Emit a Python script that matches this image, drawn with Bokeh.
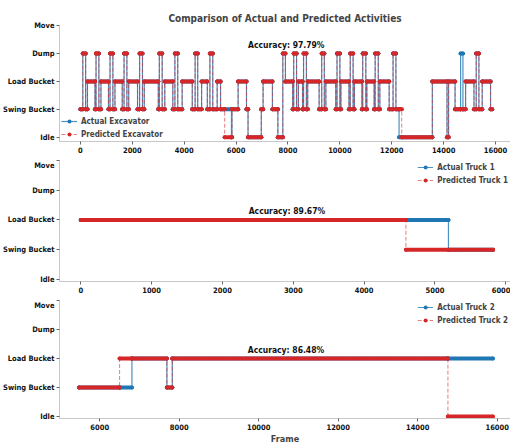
from bokeh.plotting import figure
from bokeh.models import Range1d, FixedTicker, Legend, LegendItem
from bokeh.layouts import column
from bokeh.core.properties import value
from bokeh.embed import file_html
from bokeh.resources import INLINE

activity_labels = ["Idle", "Swing Bucket", "Load Bucket", "Dump", "Move"]

# Excavator: change-point frames and states (0 Idle, 1 Swing, 2 Load, 3 Dump, 4 Move)
exc_frames = [0, 90, 200, 270, 560, 600, 710, 790, 1080, 1140, 1250, 1330, 1610, 1680,
              1790, 1860, 2200, 2280, 2390, 2460, 3000, 3040, 3150, 3250, 3560, 3640,
              3750, 3920, 4310, 4420, 4520, 4670, 4890, 4990, 5100, 5270, 5400, 5560,
              5820, 5840, 6077, 6400, 6460, 6970, 7040, 7400, 7610, 7800, 7900, 8180,
              8220, 8330, 8400, 8560, 8600, 8710, 8760, 9200, 9300, 9400, 9460, 9840,
              9890, 10000, 10040, 10350, 10400, 10510, 10560, 10850, 10880, 11000, 11040,
              11320, 11360, 11480, 11540, 11900, 12050, 12160, 12282, 12385, 13564, 14130,
              14190, 14440, 14654, 14744, 14846, 15170, 15256, 15359, 15487, 15808]
exc_actual = [1, 3, 1, 2, 1, 3, 1, 2, 1, 3, 1, 2, 1, 3,
              1, 2, 1, 3, 1, 2, 1, 3, 1, 2, 1, 3,
              1, 2, 1, 3, 1, 2, 1, 3, 1, 2, 1, 1,
              0, 1, 2, 1, 0, 1, 2, 1, 0, 3, 2, 1,
              3, 1, 2, 1, 3, 1, 2, 1, 3, 1, 2, 1,
              3, 1, 2, 1, 3, 1, 2, 1, 3, 1, 2,
              1, 3, 1, 2, 1, 3, 1, 0, 0, 2, 0,
              2, 1, 3, 1, 2, 1, 3, 1, 2, 1]
exc_pred = [1, 3, 1, 2, 1, 3, 1, 2, 1, 3, 1, 2, 1, 3,
            1, 2, 1, 3, 1, 2, 1, 3, 1, 2, 1, 3,
            1, 2, 1, 3, 1, 2, 1, 3, 1, 2, 1, 0,
            0, 1, 2, 1, 0, 1, 2, 1, 0, 3, 2, 1,
            3, 1, 2, 1, 3, 1, 2, 1, 3, 1, 2, 1,
            3, 1, 2, 1, 3, 1, 2, 1, 3, 1, 2,
            1, 3, 1, 2, 1, 3, 1, 1, 0, 2, 0,
            2, 1, 1, 1, 2, 1, 3, 1, 2, 1]
exc_end = 15870
exc_accuracy = 97.79

truck1_frames = [0, 4590, 5190]
truck1_actual = [2, 2, 1]
truck1_pred = [2, 1, 1]
truck1_end = 5820
truck1_accuracy = 89.67

truck2_frames = [5480, 6500, 6810, 7690, 7825, 14760]
truck2_actual = [1, 1, 2, 1, 2, 2]
truck2_pred = [1, 2, 2, 1, 2, 0]
truck2_end = 15890
truck2_accuracy = 86.48

FONT = "DejaVu Sans Condensed"
BLUE = "#1f77b4"
RED = "#d62728"


def draw_series(p, frames, states, end, color, dash, vwidth, valpha):
    xs = list(frames) + [end]
    ys = list(states) + [states[-1]]
    p.segment(x0=list(frames), x1=xs[1:], y0=list(states), y1=list(states),
              line_color=color, line_width=4, line_cap="round")
    st = p.step(xs, ys, mode="after", line_color=color, line_width=vwidth,
                line_dash=dash, line_alpha=valpha)
    pts = p.scatter(list(frames) + xs[1:], list(states) + list(states), size=4,
                    fill_color=color, line_color=color, line_width=0)
    return st, pts


def make_fig(height, top, bottom, xr, yr, xticks, title=None):
    kw = dict(width=510, height=height, output_backend="svg", toolbar_location=None,
              min_border_left=58, min_border_right=0, min_border_top=top,
              min_border_bottom=bottom, x_range=Range1d(*xr), y_range=Range1d(*yr))
    if title:
        kw["title"] = title
    p = figure(**kw)
    p.xaxis.ticker = FixedTicker(ticks=xticks)
    p.yaxis.ticker = FixedTicker(ticks=[0, 1, 2, 3, 4])
    p.yaxis.major_label_overrides = {i: lab for i, lab in enumerate(activity_labels)}
    for ax in (p.xaxis[0], p.yaxis[0]):
        ax.axis_line_color = "#c8c8c8"
        ax.major_tick_line_color = "#666666"
        ax.major_tick_out = 3
        ax.major_tick_in = 0
        ax.minor_tick_line_color = None
        ax.major_label_text_font = FONT
        ax.major_label_text_font_style = "bold"
        ax.major_label_text_font_size = "7.5px"
        ax.major_label_text_color = "#111111"
        ax.major_label_standoff = 2
    p.grid.visible = False
    p.outline_line_color = None
    p.background_fill_color = "white"
    return p


def add_panel(p, frames, actual, pred, end, acc, names, loc):
    a_st, a_pts = draw_series(p, frames, actual, end, BLUE, "solid", 1.2, 0.8)
    p_st, p_pts = draw_series(p, frames, pred, end, RED, "4 2", 1.0, 0.6)
    mid = (frames[0] + end) / 2
    top = max(max(actual), max(pred)) + 0.3
    p.text(x=[mid], y=[top], text=["Accuracy: %.2f%%" % acc], text_align="center",
           text_baseline="middle", text_font=value(FONT), text_font_style="bold",
           text_font_size="8.5px", text_color="#111111")
    leg = Legend(items=[LegendItem(label=names[0], renderers=[a_st, a_pts]),
                        LegendItem(label=names[1], renderers=[p_st, p_pts])],
                 location=loc, label_text_font=FONT, label_text_font_style="bold",
                 label_text_font_size="8px", label_height=10, glyph_height=10,
                 glyph_width=16, spacing=3, padding=3, margin=2, label_standoff=4,
                 border_line_color=None, background_fill_alpha=0.8)
    p.add_layout(leg)


p1 = make_fig(160, 25, 19, (-808, 16577), (-0.15, 4),
              [0, 2000, 4000, 6000, 8000, 10000, 12000, 14000, 16000],
              title="Comparison of Actual and Predicted Activities")
p1.title.align = "center"
p1.title.text_font = FONT
p1.title.text_font_style = "bold"
p1.title.text_font_size = "10px"
p1.title.standoff = 4
p1.title.offset = 0
add_panel(p1, exc_frames, exc_actual, exc_pred, exc_end, exc_accuracy,
          ["Actual Excavator", "Predicted Excavator"], "bottom_left")

p2 = make_fig(140, 0, 19, (-300, 6066), (-0.07, 4),
              [0, 1000, 2000, 3000, 4000, 5000, 6000])
add_panel(p2, truck1_frames, truck1_actual, truck1_pred, truck1_end, truck1_accuracy,
          ["Actual Truck 1", "Predicted Truck 1"], "top_right")

p3 = make_fig(146, 0, 28, (4988, 16334), (-0.07, 4),
              [6000, 8000, 10000, 12000, 14000, 16000])
p3.xaxis.axis_label = "Frame"
p3.xaxis.axis_label_text_font = FONT
p3.xaxis.axis_label_text_font_style = "bold"
p3.xaxis.axis_label_text_font_size = "9px"
p3.xaxis.axis_label_standoff = 1
add_panel(p3, truck2_frames, truck2_actual, truck2_pred, truck2_end, truck2_accuracy,
          ["Actual Truck 2", "Predicted Truck 2"], "top_right")

layout = column(p1, p2, p3, spacing=0)
open("out.html", "w").write(file_html(layout, INLINE))
